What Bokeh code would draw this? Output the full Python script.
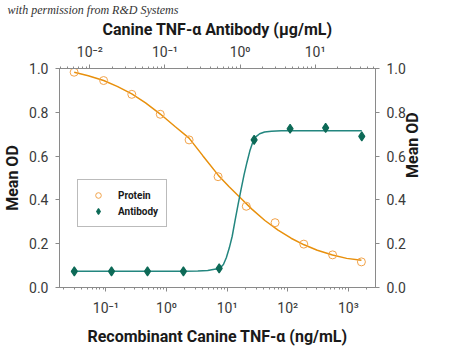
import math
from bokeh.plotting import figure
from bokeh.models import (Range1d, LogScale, LogAxis, LinearAxis, FixedTicker,
                          CustomJSTickFormatter, PrintfTickFormatter, Legend,
                          LegendItem)
from bokeh.embed import file_html
from bokeh.resources import INLINE

# ---------------- data ----------------
# Recombinant Canine TNF-alpha, ng/mL (bottom axis)
protein_conc = [0.030, 0.092, 0.268, 0.79, 2.36, 7.1, 20.7, 61.8, 184, 549, 1640]
protein_od = [0.983, 0.945, 0.882, 0.791, 0.674, 0.506, 0.371, 0.296, 0.198, 0.149, 0.117]

# Canine TNF-alpha Antibody, ug/mL (top axis)
antibody_conc = [0.0062, 0.0194, 0.0585, 0.176, 0.527, 1.54, 4.64, 13.8, 41.8]
antibody_od = [0.074, 0.074, 0.074, 0.074, 0.087, 0.674, 0.725, 0.729, 0.690]

# fitted curves
protein_fit_conc = [0.0301, 0.0513, 0.0921, 0.157, 0.268, 0.452, 0.791, 1.383, 2.36,
                    3.97, 7.13, 10.7, 16.5, 25.6, 42.0, 69.2, 113.5, 186, 307, 548, 938, 1641]
protein_fit_od = [0.983, 0.967, 0.945, 0.917, 0.884, 0.843, 0.792, 0.735, 0.682,
                  0.602, 0.513, 0.461, 0.410, 0.358, 0.306, 0.262, 0.225, 0.195, 0.170,
                  0.148, 0.133, 0.124]

antibody_fit_conc = [0.00618, 0.1746, 0.274, 0.371, 0.457, 0.531, 0.600, 0.656, 0.718,
                     0.786, 0.861, 0.942, 1.03, 1.128, 1.235, 1.351, 1.479, 1.619, 1.825,
                     2.12, 2.62, 3.54, 41.8]
antibody_fit_od = [0.074, 0.074, 0.075, 0.078, 0.083, 0.086, 0.105, 0.136, 0.180,
                   0.234, 0.309, 0.380, 0.447, 0.513, 0.571, 0.624, 0.664, 0.688, 0.702,
                   0.710, 0.714, 0.716, 0.716]

y_ticks = [0.0, 0.2, 0.4, 0.6, 0.8, 1.0]
bottom_major = [0.1, 1, 10, 100, 1000]
top_major = [0.01, 0.1, 1, 10]

bottom_title = "Recombinant Canine TNF-\u03b1 (ng/mL)"
top_title = "Canine TNF-\u03b1 Antibody (\u00b5g/mL)"
y_title = "Mean OD"
watermark = "with permission from R&D Systems"

ORANGE_LINE = "#E8900C"
ORANGE_MARK = "#F2A34A"
TEAL_LINE = "#23867F"
GREEN_MARK = "#0D6A57"
AXIS_GRAY = "#8A8A8A"
TEXT = "#1A1A1A"
TICKTXT = "#3A3A3A"
FONT = "Roboto"

p = figure(width=434, height=348, output_backend="svg", toolbar_location=None,
           x_axis_type="log", x_range=Range1d(10 ** -1.764, 10 ** 3.447),
           y_range=Range1d(0, 1), x_axis_location="below",
           min_border_left=56, min_border_right=56, min_border_top=62, min_border_bottom=60)
p.extra_x_ranges = {"top": Range1d(10 ** -2.405, 10 ** 1.804)}
p.extra_x_scales = {"top": LogScale()}
p.xgrid.visible = False
p.ygrid.visible = False
p.outline_line_color = AXIS_GRAY
p.background_fill_color = "white"
p.border_fill_color = "white"

# the "with permission" note sits in the title slot, at the top-left
p.title.text = watermark
p.title.align = "left"
p.title.offset = -52
p.title.standoff = 0
p.title.text_font = "Liberation Serif"
p.title.text_font_style = "italic"
p.title.text_font_size = "12px"
p.title.text_color = "#333333"


def minor_for(lo_exp, hi_exp):
    out = []
    for k in range(lo_exp, hi_exp + 1):
        for m in range(2, 10):
            out.append(m * 10.0 ** k)
    return out


sup_js = """
const sup = {"-":"\u207b","0":"\u2070","1":"\u00b9","2":"\u00b2","3":"\u00b3","4":"\u2074",
             "5":"\u2075","6":"\u2076","7":"\u2077","8":"\u2078","9":"\u2079"};
const e = Math.round(Math.log10(tick));
return "10" + String(e).split("").map(c => sup[c]).join("");
"""


def style_common(ax):
    ax.axis_line_color = AXIS_GRAY
    ax.major_tick_line_color = AXIS_GRAY
    ax.minor_tick_line_color = AXIS_GRAY
    ax.major_tick_in = 0
    ax.major_tick_out = 4
    ax.minor_tick_in = 0
    ax.minor_tick_out = 2
    ax.major_label_text_font = FONT
    ax.major_label_text_font_size = "14px"
    ax.major_label_text_color = TICKTXT
    ax.axis_label_text_font = FONT
    ax.axis_label_text_font_size = "16px"
    ax.axis_label_text_font_style = "bold"
    ax.axis_label_text_color = TEXT


def style_x(ax, majors, minors, label, label_standoff, title_standoff):
    style_common(ax)
    ax.ticker = FixedTicker(ticks=majors, minor_ticks=minors)
    ax.formatter = CustomJSTickFormatter(code=sup_js)
    ax.major_label_standoff = label_standoff
    ax.axis_label = label
    ax.axis_label_standoff = title_standoff


style_x(p.xaxis[0], bottom_major, minor_for(-2, 3), bottom_title, 8, 8)

top_axis = LogAxis(x_range_name="top")
style_x(top_axis, top_major, minor_for(-3, 1), top_title, 5, 2)
p.add_layout(top_axis, "above")

right_axis = LinearAxis()
p.add_layout(right_axis, "right")

for ax in (p.yaxis[0], right_axis):
    style_common(ax)
    ax.ticker = FixedTicker(ticks=y_ticks, minor_ticks=[])
    ax.formatter = PrintfTickFormatter(format="%.1f")
    ax.minor_tick_out = 0
    ax.major_label_standoff = 7
    ax.axis_label = y_title
    ax.axis_label_standoff = 4

try:
    right_axis.axis_label_orientation = math.pi / 2
except Exception:
    pass

# fitted lines
p.line(protein_fit_conc, protein_fit_od, line_color=ORANGE_LINE, line_width=1.5)
p.line(antibody_fit_conc, antibody_fit_od, line_color=TEAL_LINE, line_width=1.5,
       x_range_name="top")

# points
r_prot = p.scatter(protein_conc, protein_od, marker="circle", size=8,
                   fill_color="white", fill_alpha=0.0, line_color=ORANGE_MARK, line_width=1)
r_anti = p.scatter(antibody_conc, antibody_od, marker="diamond", size=9,
                   fill_color=GREEN_MARK, line_color=GREEN_MARK, line_width=1.2,
                   x_range_name="top")

legend = Legend(items=[LegendItem(label="Protein", renderers=[r_prot]),
                       LegendItem(label="Antibody", renderers=[r_anti])],
                location=(18, 60))
legend.border_line_color = "#777777"
legend.border_line_width = 1
legend.background_fill_color = "white"
legend.padding = 8
legend.spacing = 2
legend.margin = 0
legend.glyph_width = 24
legend.glyph_height = 14
legend.label_height = 14
legend.label_standoff = 8
legend.label_text_font = FONT
legend.label_text_font_size = "10px"
legend.label_text_font_style = "bold"
legend.label_text_color = TEXT
p.add_layout(legend, "center")

open("out.html", "w").write(file_html(p, INLINE))
